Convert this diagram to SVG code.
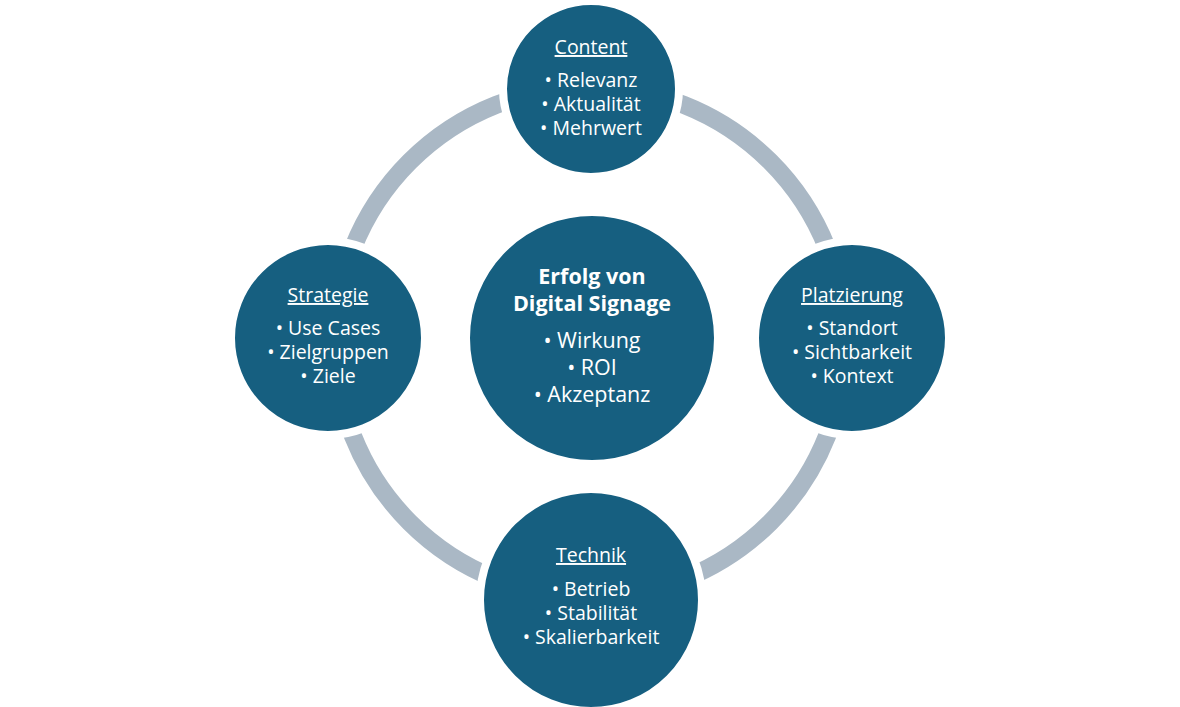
<svg xmlns="http://www.w3.org/2000/svg" width="1180" height="707" viewBox="0 0 1180 707">
<style>
.n{fill:#165f80;stroke:#fff;stroke-width:8}
.t{font-family:"Open Sans","Liberation Sans",sans-serif;font-size:19.5px;fill:#fff;text-anchor:middle}
.h{text-decoration:underline}
.b{font-weight:bold;font-size:21.5px}
.c{font-size:21.5px}
</style>
<rect width="1180" height="707" fill="#fff"/>
<g id="connectors"><circle cx="590" cy="342" r="255" fill="none" stroke="#aab8c5" stroke-width="18"/></g>
<g id="content"><circle class="n" cx="591" cy="89" r="88"/>
<text class="t h" x="591" y="54">Content</text>
<text class="t" x="591" y="87">• Relevanz</text><text class="t" x="591" y="111">• Aktualität</text><text class="t" x="591" y="135">• Mehrwert</text></g>
<g id="strategie"><circle class="n" cx="328" cy="338" r="97"/>
<text class="t h" x="328" y="302">Strategie</text>
<text class="t" x="328" y="335">• Use Cases</text><text class="t" x="328" y="359">• Zielgruppen</text><text class="t" x="328" y="383">• Ziele</text></g>
<g id="platzierung"><circle class="n" cx="852" cy="338" r="97"/>
<text class="t h" x="852" y="302">Platzierung</text>
<text class="t" x="852" y="335">• Standort</text><text class="t" x="852" y="359">• Sichtbarkeit</text><text class="t" x="852" y="383">• Kontext</text></g>
<g id="technik"><circle class="n" cx="591" cy="600" r="111"/>
<text class="t h" x="591" y="562">Technik</text>
<text class="t" x="591" y="596">• Betrieb</text><text class="t" x="591" y="620">• Stabilität</text><text class="t" x="591" y="644">• Skalierbarkeit</text></g>
<g id="center"><circle class="n" cx="592" cy="338" r="126"/>
<text class="t b" x="592" y="284">Erfolg von</text><text class="t b" x="592" y="311">Digital Signage</text>
<text class="t c" x="592" y="348">• Wirkung</text><text class="t c" x="592" y="375">• ROI</text><text class="t c" x="592" y="402">• Akzeptanz</text></g>
</svg>
